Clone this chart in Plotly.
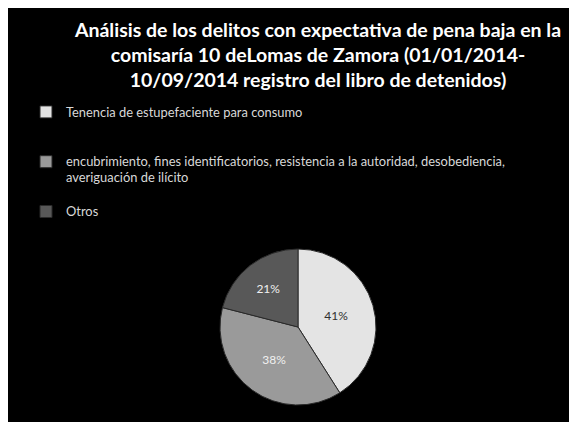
import plotly.graph_objects as go

labels = [
    "Tenencia de estupefaciente para consumo",
    "encubrimiento, fines identificatorios, resistencia a la autoridad, desobediencia,<br>averiguación de ilícito",
    "Otros",
]
values = [41, 38, 21]
slice_colors = ["#e4e4e4", "#9a9a9a", "#585858"]
text_colors = ["#303030", "#f0f0f0", "#f0f0f0"]
# blank trailing lines give the wide spacing of the original legend
legend_pad = ["<br> <br> ", "<br> ", ""]
legend_labels = ['<span style="font-size:12.9px">%s</span>%s' % (l, p) for l, p in zip(labels, legend_pad)]

title_text = ("Análisis de los delitos con expectativa de pena baja en la<br>"
              "comisaría 10 deLomas de Zamora (01/01/2014-<br>"
              "10/09/2014 registro del libro de detenidos)")

W, H = 577, 422
cx, cy, r = 290, 319, 78  # figure px

fig = go.Figure(go.Pie(
    labels=legend_labels,
    values=values,
    sort=False,
    direction="clockwise",
    rotation=0,
    marker=dict(colors=slice_colors, line=dict(color="#2a2a2a", width=1)),
    textinfo="percent",
    textposition="inside",
    insidetextorientation="horizontal",
    textfont=dict(family="Lato", size=12, color=text_colors),
    domain=dict(x=[(cx - r) / W, (cx + r) / W], y=[1 - (cy + r) / H, 1 - (cy - r) / H]),
    hoverinfo="label+percent",
))

fig.update_layout(
    width=W, height=H,
    margin=dict(l=0, r=0, t=0, b=0),
    paper_bgcolor="black",
    plot_bgcolor="black",
    title=dict(text=title_text, x=310 / W, xanchor="center", y=1 - 28.5 / H, yanchor="top",
               yref="container", xref="container",
               font=dict(family="Lato", size=19.5, color="white", weight="bold")),
    showlegend=True,
    legend=dict(x=18 / W, xanchor="left", y=1 - 89.6 / H, yanchor="top",
                valign="top", bgcolor="rgba(0,0,0,0)",
                font=dict(family="Lato", size=12, color="#d8d8d8"),
                itemclick=False),
)

fig.write_html("out.html")
